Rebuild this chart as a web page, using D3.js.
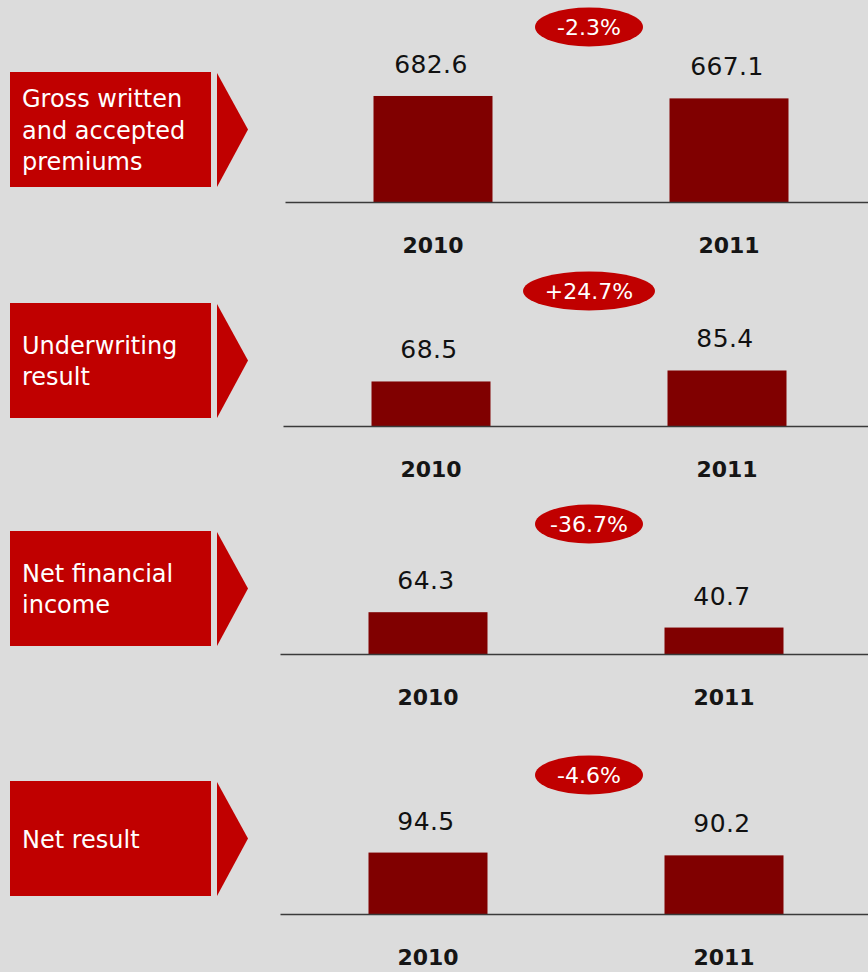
<!DOCTYPE html>
<html><head><meta charset="utf-8">
<script src="https://cdn.jsdelivr.net/npm/d3@7"></script>
<style>html,body{margin:0;padding:0;background:#dcdcdc;} svg{display:block}</style>
</head><body>
<svg id="chart" width="868" height="972"></svg>
<script>
// ---- data ----
const categories = ["Gross written\nand accepted\npremiums", "Underwriting\nresult", "Net financial\nincome", "Net result"];
const years = ["2010", "2011"];
const values2010 = [682.6, 68.5, 64.3, 94.5];
const values2011 = [667.1, 85.4, 40.7, 90.2];
const changes = ["-2.3%", "+24.7%", "-36.7%", "-4.6%"];
const scaleMax = [837, 200, 200, 200];

// ---- layout ----
const baselineY = [202, 426, 654, 914];
const boxTopY = [72, 303, 531, 781];
const pillY = [27, 291, 524, 775];
const pillRx = [54, 66, 54, 54];
const shiftX = [3, 1, -2, -2];

const W = 868, H = 972;
const RED = "#c00000", BAR = "#800000";
const FONT = "'DejaVu Sans', Verdana, sans-serif";
const barW = 119, plotH = 130;

const svg = d3.select("#chart");
svg.append("rect").attr("width", W).attr("height", H).attr("fill", "#dcdcdc");

const x = d3.scaleBand().domain(years).range([282, 874]).padding(0);

categories.forEach((cat, i) => {
  const vals = [values2010[i], values2011[i]];
  const y = d3.scaleLinear().domain([0, scaleMax[i]]).range([0, plotH]);
  const base = baselineY[i];

  // label box
  const bt = boxTopY[i], bh = 115;
  svg.append("rect").attr("x", 10).attr("y", bt).attr("width", 201).attr("height", bh).attr("fill", RED);
  svg.append("polygon")
    .attr("points", [[217, bt + 1], [248, bt + bh / 2], [217, bt + bh]].map(p => p.join(",")).join(" "))
    .attr("fill", RED);
  const lines = cat.split("\n");
  const lh = 31.5;
  const mid = bt + bh / 2 + 9;
  const t = svg.append("text").attr("font-family", FONT).attr("font-size", 24).attr("fill", "#fff");
  lines.forEach((ln, k) => {
    t.append("tspan").attr("x", 22).attr("y", mid + (k - (lines.length - 1) / 2) * lh).text(ln);
  });

  // panel group
  const g = svg.append("g").attr("transform", `translate(${shiftX[i]},0)`);

  // bars
  g.selectAll("rect.bar").data(vals).join("rect")
    .attr("class", "bar")
    .attr("x", (d, k) => x(years[k]) + (x.bandwidth() - barW) / 2)
    .attr("y", d => base - y(d))
    .attr("width", barW)
    .attr("height", d => y(d))
    .attr("fill", BAR);

  // value labels
  g.selectAll("text.val").data(vals).join("text")
    .attr("class", "val")
    .attr("x", (d, k) => x(years[k]) + x.bandwidth() / 2 - 2)
    .attr("y", d => base - y(d) - 23)
    .attr("text-anchor", "middle")
    .attr("font-family", FONT).attr("font-size", 25)
    .attr("letter-spacing", 0.4)
    .attr("fill", "#111")
    .text(d => d.toFixed(1));

  // axis
  const ax = g.append("g").attr("transform", `translate(0,${base})`)
    .call(d3.axisBottom(x).tickSize(0).tickPadding(35));
  ax.select(".domain").attr("stroke", "#3a3a3a").attr("stroke-width", 1.3);
  ax.selectAll(".tick text")
    .attr("font-family", FONT).attr("font-size", 22).attr("font-weight", "bold")
    .attr("fill", "#151515").attr("dy", "0.71em");

  // change pill
  svg.append("ellipse").attr("cx", 589).attr("cy", pillY[i])
    .attr("rx", pillRx[i]).attr("ry", 19.5).attr("fill", RED);
  svg.append("text").attr("x", 589).attr("y", pillY[i] + 8)
    .attr("text-anchor", "middle")
    .attr("font-family", FONT).attr("font-size", 22)
    .attr("fill", "#fff").text(changes[i]);
});
</script>
</body></html>
